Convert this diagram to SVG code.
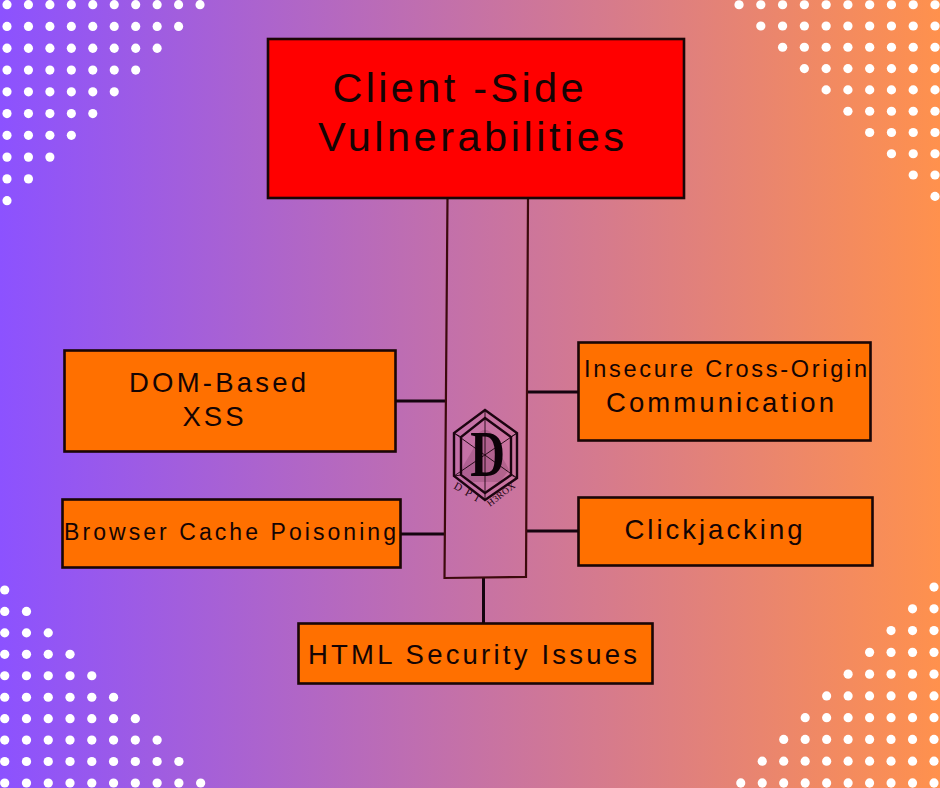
<svg xmlns="http://www.w3.org/2000/svg" xmlns:xlink="http://www.w3.org/1999/xlink" width="940" height="788" viewBox="0 0 940 788">
<style>
.box{stroke:#1a0606;stroke-width:2.6}
.org{fill:#ff7000}
.t{font-family:"Liberation Sans",Arial,sans-serif;fill:#140404}
.t27{font-size:27.5px}.t23{font-size:23.5px}.t22{font-size:23px}.t40{font-size:41.5px}
.con{stroke:#14040f;stroke-width:3;fill:none}
.trunk{stroke:#3c0a0c;stroke-width:2.2;fill:none}
.lg{fill:none;stroke:#1c0410;stroke-width:2.4}
.lt{fill:none;stroke:#1c0410;stroke-width:.9}
.ls{font-family:"Liberation Serif","Times New Roman",serif;fill:#1c0410}
</style>
<defs>
<linearGradient id="bg" x1="0" y1="0" x2="940" y2="0" gradientUnits="userSpaceOnUse">
<stop offset="0" stop-color="#8c52ff"/><stop offset="1" stop-color="#ff914d"/>
</linearGradient>
<g id="dots" fill="#fff">
<circle cx="0" cy="0" r="4.6"/><circle cx="21.6" cy="0" r="4.6"/><circle cx="43.2" cy="0" r="4.6"/><circle cx="64.8" cy="0" r="4.6"/><circle cx="86.4" cy="0" r="4.6"/><circle cx="108" cy="0" r="4.6"/><circle cx="129.6" cy="0" r="4.6"/><circle cx="151.2" cy="0" r="4.6"/><circle cx="172.8" cy="0" r="4.6"/><circle cx="194.4" cy="0" r="4.6"/>
<circle cx="0" cy="21.6" r="4.6"/><circle cx="21.6" cy="21.6" r="4.6"/><circle cx="43.2" cy="21.6" r="4.6"/><circle cx="64.8" cy="21.6" r="4.6"/><circle cx="86.4" cy="21.6" r="4.6"/><circle cx="108" cy="21.6" r="4.6"/><circle cx="129.6" cy="21.6" r="4.6"/><circle cx="151.2" cy="21.6" r="4.6"/><circle cx="172.8" cy="21.6" r="4.6"/>
<circle cx="0" cy="43.2" r="4.6"/><circle cx="21.6" cy="43.2" r="4.6"/><circle cx="43.2" cy="43.2" r="4.6"/><circle cx="64.8" cy="43.2" r="4.6"/><circle cx="86.4" cy="43.2" r="4.6"/><circle cx="108" cy="43.2" r="4.6"/><circle cx="129.6" cy="43.2" r="4.6"/><circle cx="151.2" cy="43.2" r="4.6"/>
<circle cx="0" cy="64.8" r="4.6"/><circle cx="21.6" cy="64.8" r="4.6"/><circle cx="43.2" cy="64.8" r="4.6"/><circle cx="64.8" cy="64.8" r="4.6"/><circle cx="86.4" cy="64.8" r="4.6"/><circle cx="108" cy="64.8" r="4.6"/><circle cx="129.6" cy="64.8" r="4.6"/>
<circle cx="0" cy="86.4" r="4.6"/><circle cx="21.6" cy="86.4" r="4.6"/><circle cx="43.2" cy="86.4" r="4.6"/><circle cx="64.8" cy="86.4" r="4.6"/><circle cx="86.4" cy="86.4" r="4.6"/><circle cx="108" cy="86.4" r="4.6"/>
<circle cx="0" cy="108" r="4.6"/><circle cx="21.6" cy="108" r="4.6"/><circle cx="43.2" cy="108" r="4.6"/><circle cx="64.8" cy="108" r="4.6"/><circle cx="86.4" cy="108" r="4.6"/>
<circle cx="0" cy="129.6" r="4.6"/><circle cx="21.6" cy="129.6" r="4.6"/><circle cx="43.2" cy="129.6" r="4.6"/><circle cx="64.8" cy="129.6" r="4.6"/>
<circle cx="0" cy="151.2" r="4.6"/><circle cx="21.6" cy="151.2" r="4.6"/><circle cx="43.2" cy="151.2" r="4.6"/>
<circle cx="0" cy="172.8" r="4.6"/><circle cx="21.6" cy="172.8" r="4.6"/>
<circle cx="0" cy="194.4" r="4.6"/>
</g>
</defs>
<rect id="background" width="940" height="788" fill="url(#bg)"/>
<g id="dots-corners">
<use xlink:href="#dots" href="#dots" transform="translate(7,4.7) scale(.993,1.008)"/>
<use xlink:href="#dots" href="#dots" transform="translate(935,4.7) scale(-1.008,.986)"/>
<use xlink:href="#dots" href="#dots" transform="translate(4.7,783) scale(1.008,-.993)"/>
<use xlink:href="#dots" href="#dots" transform="translate(934,783) scale(-.994,-1.008)"/>
</g>
<g id="connectors">
<line class="con" x1="396" y1="401" x2="446" y2="401"/>
<line class="con" x1="401" y1="534" x2="445" y2="534"/>
<line class="con" x1="527" y1="392" x2="578" y2="392"/>
<line class="con" x1="526" y1="531" x2="578" y2="531"/>
<line class="con" x1="483.5" y1="578" x2="483.5" y2="623"/>
</g>
<g id="trunk">
<path class="trunk" d="M447.5 198L444.5 578L526 577L528 198"/>
</g>
<g id="logo">
<path d="M485 430C478 430 475 438 474 447C470 456 464 462 461 472L470 482L500 482L509 470C505 460 499 455 496 447C495 438 492 430 485 430Z" fill="#3c0a2a" fill-opacity=".16"/>
<path class="lg" d="M485 410L517 433L517 478L485 500L454 476L454 433Z"/>
<path class="lg" d="M485 418L511 437L511 475L485 493L461 475L461 437Z" stroke-width="1.8"/>
<path class="lt" d="M485 410V500M454 433L517 478M517 433L454 476M454 433L461 437M517 433L511 437M454 476L461 475M517 478L511 475"/>
<text transform="translate(487.5,476) scale(.74,1)" text-anchor="middle" font-family="'Liberation Serif','Times New Roman',serif" font-weight="700" font-size="65" fill="#0c0208">D</text>
<text class="ls" transform="translate(453,488) rotate(30)" font-size="11" letter-spacing="5">DPI</text>
<text class="ls" transform="translate(490,507) rotate(-38)" font-size="9.5" letter-spacing=".3">H3ROX</text>
</g>
<g id="node-client-side">
<rect class="box" x="268" y="39" width="416" height="159" fill="#ff0000"/>
<text class="t t40" x="332.5" y="102" textLength="251" lengthAdjust="spacing">Client -Side</text>
<text class="t t40" x="318" y="151" textLength="306" lengthAdjust="spacing">Vulnerabilities</text>
</g>
<g id="node-dom-xss">
<rect class="box org" x="64.5" y="350.5" width="331" height="101"/>
<text class="t t27" x="129" y="392" textLength="177" lengthAdjust="spacing">DOM-Based</text>
<text class="t t27" x="182.5" y="426" textLength="61" lengthAdjust="spacing">XSS</text>
</g>
<g id="node-cache">
<rect class="box org" x="62.5" y="499.5" width="338" height="68"/>
<text class="t t22" x="64" y="540" textLength="332" lengthAdjust="spacing">Browser Cache Poisoning</text>
</g>
<g id="node-cross-origin">
<rect class="box org" x="578.5" y="342.5" width="292" height="98"/>
<text class="t t23" x="584" y="377" textLength="283" lengthAdjust="spacing">Insecure Cross-Origin</text>
<text class="t t27" x="606" y="412" textLength="228" lengthAdjust="spacing">Communication</text>
</g>
<g id="node-clickjacking">
<rect class="box org" x="578.5" y="497.5" width="294" height="68"/>
<text class="t t27" x="624.5" y="539" textLength="178" lengthAdjust="spacing">Clickjacking</text>
</g>
<g id="node-html">
<rect class="box org" x="298.5" y="623.5" width="354" height="60"/>
<text class="t t27" x="308" y="664" textLength="329" lengthAdjust="spacing">HTML Security Issues</text>
</g>
</svg>
